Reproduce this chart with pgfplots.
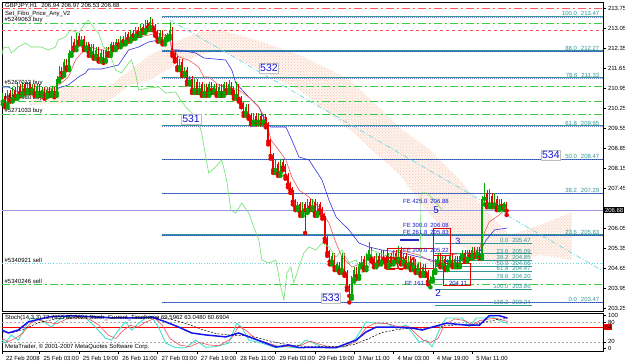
\documentclass[border=0pt]{standalone}
\usepackage{pgfplots}
\usepackage{pgfplotstable}
\pgfplotsset{compat=1.18}
\usetikzlibrary{patterns}
\usepackage{fontspec}
\setmainfont{Liberation Sans}
\definecolor{cgreen}{RGB}{0,165,0}
\definecolor{cred}{RGB}{235,0,0}
\definecolor{tenkan}{RGB}{240,90,90}
\definecolor{kijun}{RGB}{50,50,225}
\definecolor{chikou}{RGB}{110,225,110}
\definecolor{cloud}{RGB}{254,245,240}
\definecolor{clouddot}{RGB}{245,190,165}
\definecolor{fibteal}{RGB}{50,150,150}
\definecolor{fibnavy}{RGB}{40,40,190}
\definecolor{ordgreen}{RGB}{60,205,60}
\definecolor{ordred}{RGB}{250,90,90}
\definecolor{diagcyan}{RGB}{110,215,225}
\definecolor{bidline}{RGB}{150,150,225}
\definecolor{stcyan}{RGB}{64,224,208}
\definecolor{stred}{RGB}{245,80,80}
\definecolor{stblue}{RGB}{20,20,235}
\definecolor{ewblue}{RGB}{20,20,210}
\tikzset{dashdot/.style={dash pattern=on 8bp off 3bp on 2bp off 3bp}}
\newcommand{\sm}{\fontsize{6}{7}\selectfont}
\newcommand{\fiblev}[1]{\addplot[fibteal, line width=1.2bp] coordinates {(65.8,#1) (245.2,#1)};\addplot[fibnavy, draw opacity=0.6, dash pattern=on 1bp off 1bp, line width=0.4bp] coordinates {(65.8,#1) (245.2,#1)};}
\newcommand{\sfiblev}[1]{\addplot[fibteal, line width=0.9bp] coordinates {(176.8,#1) (216.3,#1)};}
\newcommand{\hlev}[2]{\addplot[#1] coordinates {(0.7,#2) (245.2,#2)};}

% bullish candles (close above open)
\pgfplotstableread{
i o c h l
0 210.3 210.5 210.6 210.2
1 210.5 210.7 210.8 210.4
3 210.4 210.8 210.9 210.3
5 210.6 210.9 211.0 210.5
7 210.7 211.0 211.2 210.6
9 210.8 211.1 211.2 210.7
11 210.9 211.1 211.2 210.8
13 210.9 211.0 211.1 210.8
15 210.8 211.0 211.1 210.7
17 210.8 210.9 211.0 210.7
19 210.75 210.9 211.0 210.65
21 210.8 210.95 211.05 210.7
23 210.8 211.3 211.4 210.7
24 211.3 211.6 211.75 211.2
26 211.5 211.9 212.0 211.4
28 211.7 212.2 212.3 211.6
29 212.2 212.6 212.8 212.1
31 212.4 212.8 212.9 212.3
33 212.6 212.7 212.8 212.5
35 212.4 212.5 212.6 212.3
37 212.2 212.4 212.5 212.1
39 212.1 212.3 212.4 212.0
41 212.0 212.2 212.3 211.9
43 211.95 212.3 212.4 211.9
45 212.2 212.5 212.6 212.1
47 212.4 212.6 212.7 212.3
49 212.5 212.7 212.8 212.4
51 212.6 212.85 212.95 212.5
53 212.7 212.9 213.0 212.6
55 212.8 213.0 213.1 212.7
57 212.9 213.1 213.2 212.8
59 213.0 213.25 213.35 212.9
61 213.1 213.3 213.47 213.0
65 212.7 212.9 213.0 212.6
67 212.6 212.75 212.85 212.5
68 212.75 212.8 212.9 212.65
69 212.8 213.0 213.3 212.7
73 211.7 211.9 212.0 211.6
75 211.5 211.6 211.7 211.4
77 211.2 211.3 211.4 211.1
79 210.9 211.2 211.3 210.8
81 210.9 211.1 211.2 210.8
83 210.8 211.0 211.1 210.7
85 210.8 211.1 211.2 210.7
87 210.9 211.0 211.1 210.8
89 210.8 211.0 211.1 210.7
91 210.8 211.1 211.2 210.7
93 210.9 211.1 211.25 210.8
96 210.7 211.0 211.2 210.6
100 210.1 210.3 210.4 210.0
103 209.8 210.0 210.1 209.7
105 209.8 210.0 210.1 209.7
107 209.8 209.95 210.05 209.7
112 208.1 208.3 208.45 208.0
114 208.0 208.4 208.5 207.9
121 206.8 206.9 207.0 206.7
123 206.6 206.9 207.0 206.5
125 206.7 207.0 207.1 206.6
127 206.8 207.0 207.1 206.7
129 206.6 206.9 207.0 206.5
135 204.9 205.1 205.2 204.8
137 204.7 204.8 204.9 204.6
139 204.6 205.1 205.2 204.5
143 203.7 204.3 204.4 203.6
144 204.3 204.6 204.7 204.2
146 204.4 204.8 204.9 204.3
147 204.8 205.0 205.1 204.7
149 204.7 205.1 205.2 204.6
150 205.1 205.3 205.6 205.0
153 204.8 205.1 205.2 204.7
155 204.9 205.2 205.3 204.8
158 204.8 205.1 205.2 204.7
160 204.9 205.2 205.3 204.8
162 205.0 205.3 205.45 204.9
164 204.9 205.1 205.2 204.8
166 204.8 205.0 205.1 204.7
168 204.7 204.9 205.0 204.6
170 204.6 204.8 204.9 204.5
172 204.5 204.7 204.8 204.4
175 204.2 204.3 204.4 204.0
176 204.3 204.6 204.7 204.2
177 204.6 204.9 205.0 204.5
178 204.9 205.1 205.2 204.8
180 204.8 205.0 205.1 204.7
182 204.7 204.9 205.0 204.6
183 204.9 205.1 205.2 204.8
185 204.8 205.0 205.1 204.7
187 204.8 205.1 205.2 204.7
188 205.1 205.2 205.3 205.0
190 205.0 205.2 205.3 204.9
192 205.1 205.3 205.4 205.0
194 205.15 205.3 205.4 205.05
196 205.1 207.1 207.2 205.0
197 207.1 207.3 207.65 206.9
199 206.9 207.2 207.45 206.8
201 206.9 207.1 207.3 206.8
203 206.8 207.0 207.1 206.7
205 206.85 206.94 207.0 206.7
}\upc

% bearish candles (close below open)
\pgfplotstableread{
i o c h l
2 210.7 210.4 210.8 210.3
4 210.8 210.6 210.9 210.5
6 210.9 210.7 211.0 210.6
8 211.0 210.8 211.1 210.7
10 211.1 210.9 211.2 210.8
12 211.1 210.9 211.2 210.8
14 211.0 210.8 211.1 210.7
16 211.0 210.8 211.1 210.7
18 210.9 210.75 211.0 210.6
20 210.9 210.8 211.0 210.7
22 210.95 210.8 211.0 210.65
25 211.6 211.5 211.7 211.35
27 211.9 211.7 212.0 211.6
30 212.6 212.4 212.7 212.3
32 212.8 212.6 212.9 212.5
34 212.7 212.4 212.8 212.3
36 212.5 212.2 212.6 212.1
38 212.4 212.1 212.5 212.0
40 212.3 212.0 212.4 211.9
42 212.2 211.95 212.3 211.85
44 212.3 212.2 212.4 212.1
46 212.5 212.4 212.6 212.3
48 212.6 212.5 212.7 212.4
50 212.7 212.6 212.8 212.5
52 212.85 212.7 212.95 212.6
54 212.9 212.8 213.0 212.7
56 213.0 212.9 213.1 212.8
58 213.1 213.0 213.2 212.9
60 213.25 213.1 213.35 213.0
62 213.3 213.1 213.4 213.0
63 213.1 212.9 213.2 212.8
64 212.9 212.7 213.0 212.6
66 212.9 212.6 213.0 212.5
70 213.0 212.2 213.1 212.1
71 212.2 212.0 212.3 211.9
72 212.0 211.7 212.1 211.6
74 211.9 211.5 212.0 211.4
76 211.6 211.2 211.7 211.1
78 211.3 210.9 211.4 210.8
80 211.2 210.9 211.3 210.8
82 211.1 210.8 211.2 210.7
84 211.0 210.8 211.1 210.7
86 211.1 210.9 211.2 210.8
88 211.0 210.8 211.1 210.7
90 211.0 210.8 211.1 210.7
92 211.1 210.9 211.2 210.8
94 211.1 210.9 211.2 210.8
95 210.9 210.7 211.0 210.6
97 211.0 210.6 211.1 210.5
98 210.6 210.4 210.7 210.3
99 210.4 210.1 210.5 210.0
101 210.3 210.0 210.4 209.9
102 210.0 209.8 210.1 209.7
104 210.0 209.8 210.1 209.7
106 210.0 209.8 210.1 209.7
108 209.95 209.7 210.05 209.6
109 209.7 209.1 209.8 209.0
110 209.1 208.6 209.2 208.5
111 208.6 208.1 208.7 208.0
113 208.3 208.0 208.4 207.9
115 208.4 208.2 208.5 208.1
116 208.2 207.9 208.3 207.8
117 207.9 207.6 208.0 207.5
118 207.6 207.4 207.7 207.3
119 207.4 207.0 207.5 206.9
120 207.0 206.8 207.1 206.7
122 206.9 206.6 207.0 206.5
124 206.9 206.7 207.0 205.9
126 207.0 206.8 207.1 206.7
128 207.0 206.6 207.1 206.5
130 206.9 206.7 207.0 206.6
131 206.7 206.5 206.8 206.4
132 206.5 205.7 206.6 205.6
133 205.7 205.2 205.8 205.1
134 205.2 204.9 205.3 204.8
136 205.1 204.7 205.2 204.6
138 204.8 204.6 204.9 204.5
140 205.1 204.5 205.2 204.4
141 204.5 204.0 204.6 203.9
142 204.0 203.7 204.1 203.47
145 204.6 204.4 204.7 204.3
148 205.0 204.7 205.1 204.6
151 205.3 205.0 205.4 204.9
152 205.0 204.8 205.1 204.7
154 205.1 204.9 205.2 204.8
156 205.2 205.0 205.3 204.9
157 205.0 204.8 205.1 204.7
159 205.1 204.9 205.2 204.8
161 205.2 205.0 205.3 204.9
163 205.3 204.9 205.4 204.8
165 205.1 204.8 205.2 204.7
167 205.0 204.7 205.1 204.6
169 204.9 204.6 205.0 204.5
171 204.8 204.5 204.9 204.4
173 204.7 204.5 204.8 204.4
174 204.5 204.2 204.6 204.1
179 205.1 204.8 205.2 204.7
181 205.0 204.7 205.1 204.6
184 205.1 204.8 205.2 204.7
186 205.0 204.8 205.1 204.7
189 205.2 205.0 205.3 204.9
191 205.2 205.1 205.3 205.0
193 205.3 205.15 205.4 205.05
195 205.3 205.1 205.4 205.0
198 207.3 206.9 207.4 206.8
200 207.2 206.9 207.3 206.8
202 207.1 206.8 207.2 206.7
204 207.0 206.85 207.1 206.75
206 206.94 206.68 206.97 206.53
}\dnc

\begin{document}
\begin{tikzpicture}
\path[use as bounding box] (0,0) rectangle (625bp,-363bp);
\fill[white] (0,0) rectangle (625bp,-363bp);
\begin{axis}[
  at={(2bp,-2bp)}, anchor=north west, scale only axis,
  width=601bp, height=309bp,
  xmin=0.7, xmax=245.2, ymin=203.17, ymax=213.985,
  axis line style={line width=0.6bp},
  xtick=\empty,
  ytick={203.25,203.95,204.65,205.35,206.05,207.45,208.15,208.85,209.55,210.25,210.95,211.65,212.35,213.05,213.75},
  ytick pos=right, yticklabel pos=right,
  tick align=outside, major tick length=3bp,
  tick style={line width=0.5bp, black},
  yticklabel style={font=\sm, xshift=-1.5bp, /pgf/number format/fixed, /pgf/number format/fixed zerofill, /pgf/number format/precision=2, /pgf/number format/assume math mode=true},
]
% Ichimoku cloud (upper span then lower span reversed)
\addplot[fill=cloud, draw=none] coordinates {(11.8,210.975) (44.6,211.045) (52.8,211.605) (61.0,212.13) (71.1,212.585) (81.2,212.935) (89.4,213.005) (101.6,212.725) (121.9,212.13) (142.3,211.255) (162.6,209.575) (174.8,208.805) (187.0,207.755) (199.2,206.53) (207.4,205.83) (219.6,206.18) (232.6,206.635) (232.6,204.955) (219.6,205.13) (207.4,204.885) (199.2,204.885) (187.0,205.48) (174.8,206.53) (162.6,207.93) (142.3,209.505) (121.9,210.905) (101.6,211.78) (89.4,212.305) (81.2,212.13) (71.1,211.78) (61.0,211.255) (52.8,211.08) (44.6,210.555) (11.8,210.38) (11.8,210.975)};
\addplot[pattern=crosshatch dots, pattern color=clouddot, draw=none] coordinates {(11.8,210.975) (44.6,211.045) (52.8,211.605) (61.0,212.13) (71.1,212.585) (81.2,212.935) (89.4,213.005) (101.6,212.725) (121.9,212.13) (142.3,211.255) (162.6,209.575) (174.8,208.805) (187.0,207.755) (199.2,206.53) (207.4,205.83) (219.6,206.18) (232.6,206.635) (232.6,204.955) (219.6,205.13) (207.4,204.885) (199.2,204.885) (187.0,205.48) (174.8,206.53) (162.6,207.93) (142.3,209.505) (121.9,210.905) (101.6,211.78) (89.4,212.305) (81.2,212.13) (71.1,211.78) (61.0,211.255) (52.8,211.08) (44.6,210.555) (11.8,210.38) (11.8,210.975)};
% order lines
\hlev{ordred, dashdot, line width=0.6bp}{213.775}
\hlev{ordgreen, dashdot, line width=0.6bp}{213.25}
\hlev{ordred, dash pattern=on 3bp off 3bp, line width=0.6bp}{212.98}
\hlev{ordgreen, dashdot, line width=0.6bp}{211.03}
\hlev{ordgreen, dashdot, line width=0.6bp}{210.52}
\hlev{ordgreen, dashdot, line width=0.6bp}{210.065}
\hlev{diagcyan, dotted, line width=0.7bp}{204.84}
\hlev{ordgreen, dashdot, line width=0.6bp}{204.115}
\hlev{bidline, line width=0.5bp}{206.68}
% main fibo levels
\fiblev{213.47}\fiblev{212.27}\fiblev{211.33}\fiblev{209.65}\fiblev{208.47}\fiblev{207.29}\fiblev{205.83}\fiblev{203.47}
% small fibo levels
\sfiblev{205.55}\sfiblev{205.17}\sfiblev{204.935}\sfiblev{204.745}\sfiblev{204.555}\sfiblev{204.285}\sfiblev{203.94}\sfiblev{203.36}
% cyan diagonal
\addplot[diagcyan, dash pattern=on 5bp off 2bp on 1bp off 2bp, line width=0.7bp] coordinates {(69.0,213.355) (245.2,204.57)};
% Kijun
\addplot[kijun, line width=0.6bp] coordinates {(0.7,211.01) (3.3,211.01) (7.3,210.835) (18.3,210.73) (22.4,210.73) (23.6,210.975) (27.7,211.08) (31.8,211.36) (34.7,211.50) (35.9,211.64) (41.2,211.64) (48.1,211.78) (52.2,212.305) (56.3,212.41) (60.3,212.585) (64.4,212.655) (69.3,212.655) (69.7,212.305) (72.6,212.305) (79.5,212.20) (82.8,212.025) (91.7,211.955) (94.2,211.605) (95.8,211.15) (101.1,210.66) (105.2,210.31) (108.0,209.75) (110.1,209.61) (116.2,209.61) (118.6,209.155) (121.5,208.56) (125.6,208.455) (130.9,207.755) (133.7,207.055) (136.6,206.46) (141.9,206.005) (145.9,205.55) (150.0,205.41) (155.3,205.305) (162.3,205.23) (178.6,204.885) (190.8,204.955) (194.9,205.23) (197.7,205.655) (201.0,206.005) (206.3,206.075)};
% Tenkan
\addplot[tenkan, line width=0.6bp] coordinates {(0.7,210.555) (7.3,210.66) (15.5,210.835) (21.6,210.975) (24.9,211.15) (27.7,211.36) (30.6,211.955) (33.0,212.20) (37.1,212.41) (40.0,212.305) (44,212.37) (48.1,212.41) (55.0,212.725) (60.3,212.83) (64.4,212.90) (68.5,212.76) (69.7,212.41) (72.6,212.06) (76.6,211.955) (80.7,211.71) (82.8,211.36) (84.8,211.36) (88.9,211.08) (92.9,211.01) (97.0,210.905) (101.1,210.66) (105.2,210.31) (108.0,209.855) (110.1,209.155) (113.3,208.805) (116.2,208.455) (118.6,207.86) (121.5,207.405) (125.6,207.16) (129.6,206.81) (133.7,206.25) (136.6,205.55) (139.0,205.06) (143.1,204.71) (147.2,204.85) (151.2,205.06) (155.3,205.06) (162.3,205.305) (170.4,205.13) (175.7,204.88) (182.6,205.13) (189.6,205.20) (194.9,205.305) (196.9,205.90) (198.9,206.285) (203.0,206.53) (206.3,206.88)};
% candles: wicks and bodies
\addplot[cred, only marks, mark=none, error bars/.cd, y dir=plus, y explicit, error mark=none, error bar style={cred, line width=0.6bp}] table[x=i, y=l, y error plus expr={\thisrow{h}-\thisrow{l}}] {\dnc};
\addplot[cgreen, only marks, mark=none, error bars/.cd, y dir=plus, y explicit, error mark=none, error bar style={cgreen, line width=0.6bp}] table[x=i, y=l, y error plus expr={\thisrow{h}-\thisrow{l}}] {\upc};
\addplot[cred, only marks, mark=none, error bars/.cd, y dir=plus, y explicit, error mark=none, error bar style={cred, line width=1.5bp}] table[x=i, y=c, y error plus expr={\thisrow{o}-\thisrow{c}}] {\dnc};
\addplot[cgreen, only marks, mark=none, error bars/.cd, y dir=plus, y explicit, error mark=none, error bar style={cgreen, line width=1.5bp}] table[x=i, y=o, y error plus expr={\thisrow{c}-\thisrow{o}}] {\upc};
% Chikou
\addplot[chikou, line width=0.6bp] coordinates {(0.7,212.13) (1.2,212.375) (3.3,212.41) (4.5,212.20) (7.3,212.41) (10.2,212.55) (12.6,212.41) (16.7,212.41) (19.6,212.305) (22.4,212.41) (23.6,212.655) (26.5,212.76) (28.5,213.005) (31.8,212.90) (34.7,213.25) (35.9,213.355) (38.7,213.005) (40.0,212.90) (42.0,212.41) (44.0,212.305) (46.9,211.605) (49.3,211.50) (52.2,211.85) (53.4,211.955) (55.0,211.50) (56.3,210.905) (60.3,210.975) (64.4,211.01) (67.3,210.80) (71.3,210.835) (73.4,210.555) (75.8,210.275) (77.9,210.10) (80.7,209.75) (81.9,209.40) (83.6,208.56) (84.8,208.00) (87.6,208.21) (90.1,208.455) (92.1,207.755) (93.8,206.705) (95.8,206.60) (98.2,206.95) (101.1,206.60) (103.1,206.11) (105.2,205.655) (106.4,204.955) (109.3,204.85) (112.1,204.955) (114.1,204.01) (115.4,203.555) (116.6,204.50) (118.2,204.71) (119.4,204.15) (121.5,204.71) (123.5,205.20) (125.6,205.41) (128.4,205.305) (130.9,205.55) (133.7,205.41) (136.6,205.06) (139.0,205.305) (141.9,204.85) (144.7,204.955) (147.2,204.50) (150.0,204.71) (151.2,205.305) (156.1,205.13) (162.3,205.06) (168.4,204.85) (170.8,204.85) (171.2,207.30) (173.7,207.30) (176.5,207.055) (179.8,206.705)};
% red boxes and marks in the middle cluster
\addplot[cred, line width=0.6bp] coordinates {(157.3,205.375) (176.0,205.375) (176.0,204.675) (157.3,204.675) (157.3,205.375)};
\addplot[cred, line width=0.6bp] coordinates {(176.0,206.075) (182.9,206.075) (182.9,205.13) (176.0,205.13) (176.0,206.075)};
\addplot[cred, line width=0.6bp] coordinates {(180.1,204.85) (191.1,204.85) (191.1,204.08) (180.1,204.08) (180.1,204.85)};
\addplot[fibnavy, line width=1.5bp] coordinates {(162.5,205.655) (170.5,205.655)};
\node[text=cred, font=\fontsize{19}{20}\selectfont, inner sep=0] at (axis cs:163.2,204.80) {204};
\node[text=ewblue, font=\fontsize{10}{11}\selectfont, inner sep=0] at (axis cs:177.3,206.70) {5};
\node[text=ewblue, font=\fontsize{9}{10}\selectfont, inner sep=0] at (axis cs:186.2,205.62) {3};
\node[text=ewblue, font=\fontsize{10}{11}\selectfont, inner sep=0] at (axis cs:178.1,203.80) {2};
% FE labels
\node[text=ewblue, font=\sm, anchor=west, inner sep=0] at (axis cs:163.8,207.02) {FE 425.0\hspace{3bp}206.88};
\node[text=ewblue, font=\sm, anchor=west, inner sep=0] at (axis cs:163.8,206.18) {FE 300.0\hspace{3bp}206.08};
\node[text=ewblue, font=\sm, anchor=west, inner sep=0] at (axis cs:163.8,205.935) {FE 261.8\hspace{3bp}205.83};
\node[text=ewblue, font=\sm, anchor=west, inner sep=0] at (axis cs:163.8,205.30) {FE 200.0\hspace{3bp}205.22};
\node[text=ewblue, font=\sm, anchor=west, inner sep=0] at (axis cs:164.5,204.15) {FE 161.8};
\node[text=ewblue, font=\sm, anchor=west, inner sep=0] at (axis cs:182.5,204.15) {204.11};
% main fibo labels
\node[text=fibteal, font=\sm, anchor=south east, inner sep=0.6bp] at (axis cs:244.0,213.47) {100.0\hspace{4bp}213.47};
\node[text=fibteal, font=\sm, anchor=south east, inner sep=0.6bp] at (axis cs:244.0,212.27) {88.0\hspace{4bp}212.27};
\node[text=fibteal, font=\sm, anchor=south east, inner sep=0.6bp] at (axis cs:244.0,211.33) {78.6\hspace{4bp}211.33};
\node[text=fibteal, font=\sm, anchor=south east, inner sep=0.6bp] at (axis cs:244.0,209.65) {61.8\hspace{4bp}209.65};
\node[text=fibteal, font=\sm, anchor=south east, inner sep=0.6bp] at (axis cs:244.0,208.47) {50.0\hspace{4bp}208.47};
\node[text=fibteal, font=\sm, anchor=south east, inner sep=0.6bp] at (axis cs:244.0,207.29) {38.2\hspace{4bp}207.29};
\node[text=fibteal, font=\sm, anchor=south east, inner sep=0.6bp] at (axis cs:244.0,205.83) {23.6\hspace{4bp}205.83};
\node[text=fibteal, font=\sm, anchor=south east, inner sep=0.6bp] at (axis cs:244.0,203.47) {0.0\hspace{4bp}203.47};
% small fibo labels
\node[text=fibteal, font=\sm, anchor=south east, inner sep=0.4bp] at (axis cs:216.0,205.55) {0.0\hspace{4bp}205.47};
\node[text=fibteal, font=\sm, anchor=south east, inner sep=0.4bp] at (axis cs:216.0,205.17) {23.6\hspace{4bp}205.09};
\node[text=fibteal, font=\sm, anchor=south east, inner sep=0.4bp] at (axis cs:216.0,204.935) {38.2\hspace{4bp}204.85};
\node[text=fibteal, font=\sm, anchor=south east, inner sep=0.4bp] at (axis cs:216.0,204.745) {50.0\hspace{4bp}204.66};
\node[text=fibteal, font=\sm, anchor=south east, inner sep=0.4bp] at (axis cs:216.0,204.555) {61.8\hspace{4bp}204.47};
\node[text=fibteal, font=\sm, anchor=south east, inner sep=0.4bp] at (axis cs:216.0,204.285) {78.6\hspace{4bp}204.20};
\node[text=fibteal, font=\sm, anchor=south east, inner sep=0.4bp] at (axis cs:216.0,203.94) {100.0\hspace{4bp}203.86};
\node[text=fibteal, font=\sm, anchor=south east, inner sep=0.4bp] at (axis cs:216.0,203.36) {138.2\hspace{4bp}203.24};
% Elliott wave labels
\node[draw=gray!50, fill=white, text=ewblue, font=\fontsize{10.5}{11}\selectfont, inner sep=1bp] at (axis cs:77.6,209.89) {531};
\node[draw=gray!50, fill=white, text=ewblue, font=\fontsize{10.5}{11}\selectfont, inner sep=1bp] at (axis cs:109.3,211.675) {532};
\node[draw=gray!50, fill=white, text=ewblue, font=\fontsize{10.5}{11}\selectfont, inner sep=1bp] at (axis cs:134.5,203.62) {533};
\node[draw=gray!50, fill=white, text=ewblue, font=\fontsize{10.5}{11}\selectfont, inner sep=1bp] at (axis cs:224.0,208.63) {534};
% order labels
\node[font=\sm, anchor=south west, inner sep=0.5bp] at (axis cs:1.5,213.25) {\#5249063 buy};
\node[font=\sm, anchor=south west, inner sep=0.5bp] at (axis cs:1.5,211.03) {\#5267013 buy};
\node[font=\sm, anchor=south west, inner sep=0.5bp] at (axis cs:1.5,210.52) {\#5274080 buy};
\node[font=\sm, anchor=south west, inner sep=0.5bp] at (axis cs:1.5,210.065) {\#5271033 buy};
\node[font=\sm, anchor=south west, inner sep=0.5bp] at (axis cs:1.5,204.84) {\#5340921 sell};
\node[font=\sm, anchor=south west, inner sep=0.5bp] at (axis cs:1.5,204.115) {\#5340246 sell};
\end{axis}
\node[font=\sm, anchor=north west, inner sep=0] at (5bp,-3bp) {GBPJPY,H1\hspace{4bp}206.94 206.97 206.53 206.68};
\node[font=\sm, anchor=north west, inner sep=0] at (5bp,-11bp) {Set\_Fibo\_Price\_Any\_V2};
\node[fill=black, text=white, font=\sm, inner sep=0.8bp, anchor=west] at (604bp,-210bp) {206.68};

\begin{axis}[
  at={(2bp,-313bp)}, anchor=north west, scale only axis,
  width=601bp, height=38bp,
  xmin=0.7, xmax=245.2, ymin=-8.3, ymax=108.3,
  axis line style={line width=0.6bp},
  xtick={0.7,16,32,48,64,80,96,112,128,144,160,176,192},
  xticklabels={22 Feb 2008,25 Feb 03:00,25 Feb 19:00,26 Feb 11:00,27 Feb 03:00,27 Feb 19:00,28 Feb 11:00,29 Feb 03:00,29 Feb 19:00,3 Mar 11:00,4 Mar 03:00,4 Mar 19:00,5 Mar 11:00},
  xtick pos=bottom,
  xticklabel style={font=\sm, anchor=north west, xshift=0.5bp, yshift=1bp},
  ytick={0,20,80,100}, ytick pos=right, yticklabel pos=right,
  yticklabel style={font=\sm, xshift=-1.5bp, /pgf/number format/assume math mode=true},
  tick align=outside, major tick length=3bp,
  tick style={line width=0.5bp, black},
]
\hlev{gray!70, dash pattern=on 2bp off 2bp, line width=0.4bp}{80}
\hlev{gray!70, dash pattern=on 2bp off 2bp, line width=0.4bp}{20}
\hlev{red, line width=0.5bp}{64}
\addplot[stcyan, line width=0.9bp] coordinates {(0.7,25) (2,16) (4.5,41) (7.3,25) (10.2,65) (12.2,93) (16.7,87) (20.8,65) (23.6,87) (26.5,96) (30.6,96) (34.7,93) (38.7,65) (42.8,31) (45.3,25) (48.1,56) (51,81) (53.4,56) (56.3,77) (59.1,93) (61.6,96) (64.4,65) (67.3,16) (71.3,2) (75.4,1) (79.5,25) (83.6,3) (87.6,5) (92.9,16) (96.2,77) (98.2,65) (101.1,25) (106.4,16) (112.1,2) (116.2,5) (120.3,1) (124.3,25) (126.8,18) (130.9,3) (134.9,1) (140.6,5) (144.7,31) (148.8,81) (152.9,77) (156.9,77) (161,62) (165.1,71) (167.6,47) (170.4,19) (173.3,25) (175.7,5) (178.6,56) (181.4,93) (185.5,93) (187.9,93) (190.8,65) (193.6,93) (197.7,93) (200.2,96) (204.2,81) (206.3,77)};
\addplot[stred, line width=0.6bp] coordinates {(0.7,30) (3,20) (6,30) (9,45) (12,75) (15,88) (19,80) (23,75) (27,90) (32,95) (36,90) (40,72) (44,40) (47,30) (50,55) (53,70) (56,65) (59,80) (63,92) (66,70) (69,30) (73,10) (77,5) (81,18) (85,10) (89,8) (94,30) (97,68) (100,55) (104,28) (108,18) (113,6) (118,5) (122,8) (126,22) (130,12) (134,4) (140,5) (145,22) (149,65) (153,78) (158,75) (162,66) (166,68) (169,45) (172,25) (175,18) (178,30) (181,75) (185,90) (189,85) (192,72) (195,85) (199,90) (202,92) (205,85) (206.3,82)};
\addplot[black, dash pattern=on 2bp off 1.5bp, line width=0.5bp] coordinates {(0.7,50) (5,48) (10,60) (16,80) (24,92) (32,96) (40,97) (48,94) (58,92) (64,94) (70,88) (76,75) (82,58) (88,45) (94,40) (100,40) (106,30) (112,18) (118,10) (124,6) (130,6) (138,5) (144,12) (150,30) (155,48) (162,58) (168,62) (174,62) (180,68) (186,72) (192,72) (197,80) (202,88) (206.3,92)};
\addplot[stblue, line width=1.5bp] coordinates {(0.7,56) (3.3,47) (7.3,56) (11.4,81) (19.6,96) (28.9,100) (38.7,96) (46.9,93) (56.3,93) (61.6,96) (67.3,81) (72.6,65) (77.9,47) (83.6,41) (91.7,35) (97,47) (101.1,35) (108,16) (112.1,4) (117.4,10) (121.5,2) (126.8,3) (136.6,2) (144.7,25) (148.8,50) (152.9,65) (159.4,65) (167.6,62) (171.6,56) (175.7,65) (181.4,77) (189.6,71) (194.9,71) (198.9,100) (203,100) (206.3,93)};
\end{axis}
\node[font=\sm, anchor=north west, inner sep=0] at (5bp,-315bp) {Stoch(14,3,3) 72.7855 80.5624 Stoch\_Current\_Timeframe 69.5962 63.0480 60.6904};
\node[font=\sm, anchor=south west, inner sep=0] at (5bp,-350bp) {MetaTrader, \textcopyright{} 2001-2007 MetaQuotes Software Corp.};
\node[fill=red, text=black, font=\sm, inner sep=0.6bp, anchor=west] at (604bp,-327bp) {64};
\end{tikzpicture}
\end{document}
